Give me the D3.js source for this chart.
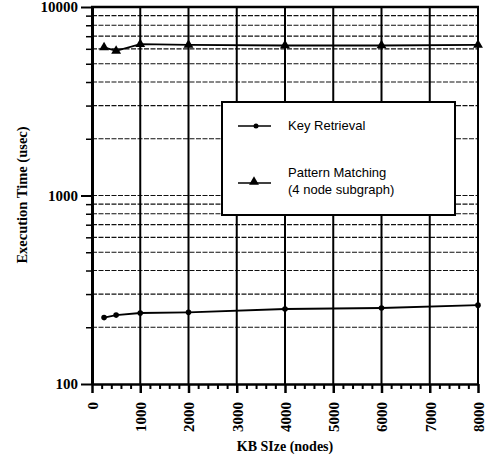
<!DOCTYPE html>
<html>
<head>
<meta charset="utf-8">
<script src="https://cdn.jsdelivr.net/npm/d3@7"></script>
<style>
  body { margin: 0; background: #fff; }
  svg { display: block; }
</style>
</head>
<body>
<script>
var width = 487;
var height = 458;

var margin = {top: 7, left: 92, right: 9, bottom: 74};

// data
var kbSizes = [250, 500, 1000, 2000, 4000, 6000, 8000];
var keyRetrieval = [225, 232, 238, 240, 250, 253, 262];
var patternMatching = [6100, 5850, 6350, 6300, 6250, 6250, 6300];

var xMajorTicks = [0, 1000, 2000, 3000, 4000, 5000, 6000, 7000, 8000];
var yMajorTicks = [100, 1000, 10000];
var seriesNames = ["Key Retrieval", "Pattern Matching"];

var svg = d3.select("body")
  .append("svg")
  .attr("width", width)
  .attr("height", height);

var xScale = d3.scaleLinear()
  .domain([0, 8000])
  .range([margin.left, width - margin.right]);

var yScale = d3.scaleLog()
  .domain([100, 10000])
  .range([height - margin.bottom, margin.top]);

var yMinor = [];
[100, 1000].forEach(function(d) {
  for (var k = 2; k <= 9; k++) yMinor.push(d * k);
});
var xMinor = d3.range(0, 8001, 200).filter(function(d) { return d % 1000 !== 0; });

var serif = "'Liberation Serif', 'Times New Roman', serif";

// horizontal grid
svg.append("g")
  .selectAll("line")
  .data(yMinor.concat([1000]))
  .enter()
  .append("line")
  .attr("x1", xScale(0))
  .attr("x2", xScale(8000))
  .attr("y1", function(d) { return yScale(d); })
  .attr("y2", function(d) { return yScale(d); })
  .attr("stroke", "#111")
  .attr("stroke-width", 1.2)
  .attr("stroke-dasharray", "5,1.5");

// vertical grid
svg.append("g")
  .selectAll("line")
  .data(xMajorTicks)
  .enter()
  .append("line")
  .attr("x1", function(d) { return xScale(d); })
  .attr("x2", function(d) { return xScale(d); })
  .attr("y1", yScale(10000))
  .attr("y2", yScale(100))
  .attr("stroke", "#000")
  .attr("stroke-width", 2);

// frame top
svg.append("line")
  .attr("x1", xScale(0) - 1)
  .attr("x2", xScale(8000) + 1)
  .attr("y1", yScale(10000))
  .attr("y2", yScale(10000))
  .attr("stroke", "#000")
  .attr("stroke-width", 2.5);

// x axis: minor then major ticks
svg.append("g")
  .attr("transform", "translate(0," + yScale(100) + ")")
  .call(d3.axisBottom(xScale).tickValues(xMinor).tickSize(5).tickFormat(""))
  .call(function(g) {
    g.select(".domain").remove();
    g.selectAll("line").attr("stroke-width", 2);
  });

var xAxis = svg.append("g")
  .attr("transform", "translate(0," + yScale(100) + ")")
  .call(d3.axisBottom(xScale).tickValues(xMajorTicks).tickSize(9).tickSizeOuter(0).tickFormat(d3.format("d")));

xAxis.select(".domain").attr("stroke-width", 2.5);
xAxis.selectAll("line").attr("stroke-width", 2.5);
xAxis.selectAll("text")
  .attr("font-family", serif)
  .attr("font-size", 15)
  .attr("font-weight", "bold")
  .attr("fill", "#000")
  .attr("text-anchor", "end")
  .attr("dy", "0.35em")
  .attr("transform", "translate(0,18) rotate(-90)")
  .attr("x", 0)
  .attr("y", 0);

// y axis: minor then major ticks
svg.append("g")
  .attr("transform", "translate(" + xScale(0) + ",0)")
  .call(d3.axisLeft(yScale).tickValues(yMinor).tickSize(6).tickFormat(""))
  .call(function(g) {
    g.select(".domain").remove();
    g.selectAll("line").attr("stroke-width", 1.5);
  });

var yAxis = svg.append("g")
  .attr("transform", "translate(" + xScale(0) + ",0)")
  .call(d3.axisLeft(yScale).tickValues(yMajorTicks).tickSize(11).tickSizeOuter(0).tickFormat(d3.format("d")));

yAxis.select(".domain").attr("stroke-width", 3);
yAxis.selectAll("line").attr("stroke-width", 2);
yAxis.selectAll("text")
  .attr("font-family", serif)
  .attr("font-size", 15)
  .attr("font-weight", "bold")
  .attr("fill", "#000")
  .attr("x", -14);

// axis titles
svg.append("text")
  .attr("x", (xScale(0) + xScale(8000)) / 2)
  .attr("y", 451)
  .attr("text-anchor", "middle")
  .attr("font-family", serif)
  .attr("font-weight", "bold")
  .attr("font-size", 14)
  .text("KB SIze (nodes)");

svg.append("text")
  .attr("transform", "translate(27," + 195 + ") rotate(-90)")
  .attr("text-anchor", "middle")
  .attr("font-family", serif)
  .attr("font-weight", "bold")
  .attr("font-size", 14.5)
  .text("Execution Time (usec)");

// series
var line = d3.line()
  .x(function(d) { return xScale(d[0]); })
  .y(function(d) { return yScale(d[1]); });

var keyData = d3.zip(kbSizes, keyRetrieval);
var patData = d3.zip(kbSizes, patternMatching);

svg.append("path")
  .datum(keyData)
  .attr("d", line)
  .attr("fill", "none")
  .attr("stroke", "#000")
  .attr("stroke-width", 1.8);

svg.selectAll(".kdot")
  .data(keyData)
  .enter()
  .append("circle")
  .attr("class", "kdot")
  .attr("cx", function(d) { return xScale(d[0]); })
  .attr("cy", function(d) { return yScale(d[1]); })
  .attr("r", 2.8)
  .attr("fill", "#000");

svg.append("path")
  .datum(patData)
  .attr("d", line)
  .attr("fill", "none")
  .attr("stroke", "#000")
  .attr("stroke-width", 1.8);

var tri = d3.symbol().type(d3.symbolTriangle).size(42);

svg.selectAll(".ptri")
  .data(patData)
  .enter()
  .append("path")
  .attr("class", "ptri")
  .attr("d", tri)
  .attr("transform", function(d) { return "translate(" + xScale(d[0]) + "," + yScale(d[1]) + ")"; })
  .attr("fill", "#000");

// legend
var legend = svg.append("g");

legend.append("rect")
  .attr("x", 222)
  .attr("y", 102)
  .attr("width", 233)
  .attr("height", 113)
  .attr("fill", "#fff")
  .attr("stroke", "#000")
  .attr("stroke-width", 2);

var legendFont = "'Liberation Sans', Arial, sans-serif";

legend.append("line")
  .attr("x1", 238).attr("x2", 271)
  .attr("y1", 126).attr("y2", 126)
  .attr("stroke", "#000").attr("stroke-width", 1.5);
legend.append("circle")
  .attr("cx", 256).attr("cy", 126).attr("r", 2.5).attr("fill", "#000");
legend.append("text")
  .attr("x", 288).attr("y", 130)
  .attr("font-family", legendFont)
  .attr("font-size", 13)
  .text(seriesNames[0]);

legend.append("line")
  .attr("x1", 238).attr("x2", 271)
  .attr("y1", 183).attr("y2", 183)
  .attr("stroke", "#000").attr("stroke-width", 1.5);
legend.append("path")
  .attr("d", tri)
  .attr("transform", "translate(254,182)")
  .attr("fill", "#000");
legend.append("text")
  .attr("x", 288).attr("y", 177)
  .attr("font-family", legendFont)
  .attr("font-size", 13)
  .text(seriesNames[1]);
legend.append("text")
  .attr("x", 288).attr("y", 194)
  .attr("font-family", legendFont)
  .attr("font-size", 13)
  .text("(4 node subgraph)");
</script>
</body>
</html>
